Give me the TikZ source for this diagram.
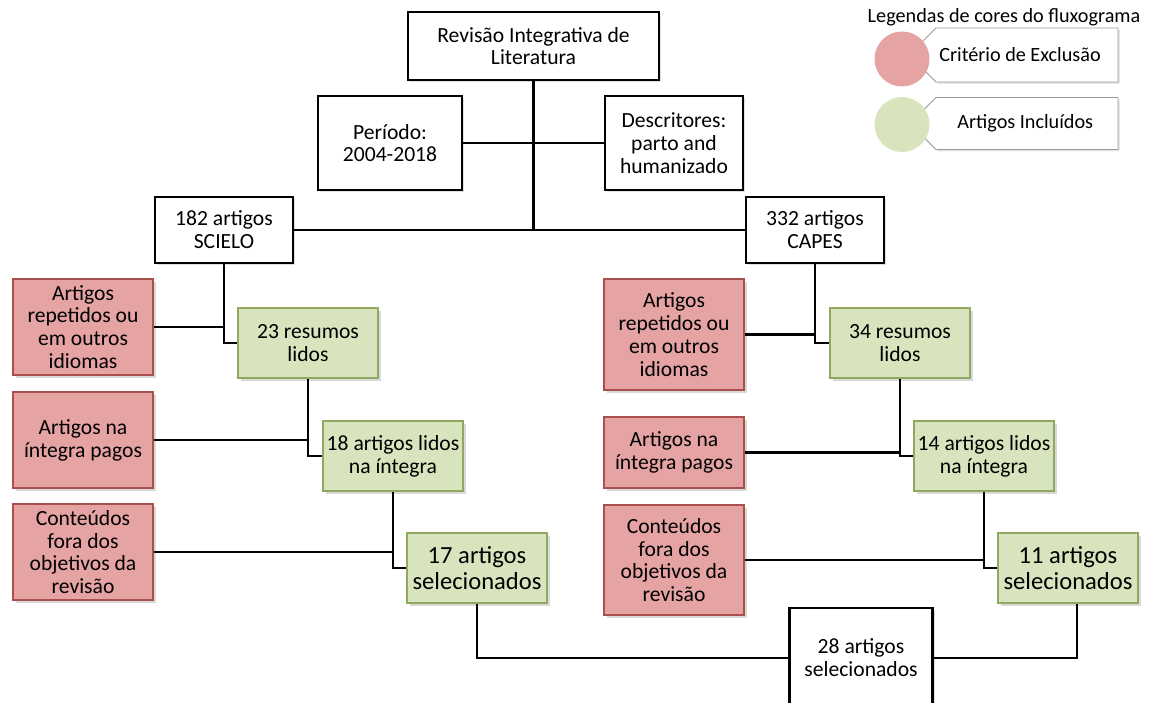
\documentclass[tikz,border=0pt]{standalone}
\usepackage{fontspec}
\setmainfont{Carlito}
\usepackage{tikz}
\usetikzlibrary{calc,shadows,shapes.misc}
\definecolor{exclfill}{RGB}{229,164,163}
\definecolor{excldraw}{RGB}{170,80,76}
\definecolor{inclfill}{RGB}{215,228,189}
\definecolor{incldraw}{RGB}{145,168,96}
\newcommand{\boxfont}{\fontsize{12.3}{13}\selectfont}
\newcommand{\selfont}{\fontsize{14}{14.5}\selectfont}

\begin{document}
\begin{tikzpicture}[x=0.02cm, y=-0.02cm,
    plainbox/.style={draw=black, line width=1.6pt, fill=white, align=center, font=\boxfont,
        minimum width=2.8cm, minimum height=1.36cm, inner sep=1pt,
        drop shadow={shadow xshift=1.2pt, shadow yshift=-1.2pt, opacity=0.25}},
    exclbox/.style={draw=excldraw, line width=0.9pt, fill=exclfill, align=center, font=\boxfont,
        minimum width=2.8cm, minimum height=1.92cm, inner sep=1pt,
        drop shadow={shadow xshift=1.5pt, shadow yshift=-1.5pt, opacity=0.3}},
    inclbox/.style={draw=incldraw, line width=0.9pt, fill=inclfill, align=center, font=\boxfont,
        minimum width=2.8cm, minimum height=1.4cm, inner sep=1pt,
        drop shadow={shadow xshift=1.5pt, shadow yshift=-1.5pt, opacity=0.3}},
    legbox/.style={draw=black!40, line width=0.5pt, fill=white, font=\fontsize{11.5}{13}\selectfont,
        chamfered rectangle, chamfered rectangle corners={north west,south west},
        chamfered rectangle sep=4pt, minimum width=3.92cm, inner sep=1pt,
        drop shadow={shadow xshift=1pt, shadow yshift=-1pt, opacity=0.2}},
    link/.style={line width=1.2pt, black}]
    \useasboundingbox (0,0) rectangle (1153,703);

    % top of the tree
    \node[plainbox, minimum width=5.02cm] (revisao) at (533.5,46) {Revisão Integrativa de\\Literatura};
    \node[plainbox, minimum width=2.88cm, minimum height=1.88cm] (periodo) at (390,143) {Período:\\2004-2018};
    \node[plainbox, minimum width=2.76cm, minimum height=1.88cm] (descritores) at (674,143) {Descritores:\\parto and\\humanizado};
    \node[plainbox, minimum width=2.76cm, minimum height=1.32cm] (scielo) at (224,230) {182 artigos\\SCIELO};
    \node[plainbox, minimum width=2.76cm, minimum height=1.32cm] (capes) at (815,230) {332 artigos\\CAPES};

    % SCIELO branch
    \node[exclbox] (exclA) at (83,327) {Artigos\\repetidos ou\\em outros\\idiomas};
    \node[exclbox] (exclB) at (83,440) {Artigos na\\íntegra pagos};
    \node[exclbox] (exclC) at (83,552) {Conteúdos\\fora dos\\objetivos da\\revisão};
    \node[inclbox] (resumosA) at (308,343) {23 resumos\\lidos};
    \node[inclbox] (integraA) at (393,456) {18 artigos lidos\\na íntegra};
    \node[inclbox, font=\selfont] (selA) at (477,568) {17 artigos\\selecionados};

    % CAPES branch
    \node[exclbox, minimum height=2.22cm] (exclD) at (674,334.5) {Artigos\\repetidos ou\\em outros\\idiomas};
    \node[exclbox, minimum height=1.42cm] (exclE) at (674,452.5) {Artigos na\\íntegra pagos};
    \node[exclbox, minimum height=2.2cm] (exclF) at (674,560) {Conteúdos\\fora dos\\objetivos da\\revisão};
    \node[inclbox] (resumosB) at (900,343) {34 resumos\\lidos};
    \node[inclbox] (integraB) at (984,456) {14 artigos lidos\\na íntegra};
    \node[inclbox, font=\selfont] (selB) at (1068,568) {11 artigos\\selecionados};

    \node[plainbox, minimum width=2.86cm, minimum height=2.0cm] (total) at (861,658) {28 artigos\\selecionados};

    % legend
    \node[font=\fontsize{11.5}{13}\selectfont] (legtitle) at (1004,17) {Legendas de cores do fluxograma};
    \node[legbox, minimum height=1.08cm] (legexcl) at (1020,55) {Critério de Exclusão};
    \node[legbox, minimum height=1.04cm] (legincl) at (1020,123.5) {\hspace{6pt}Artigos Incluídos};
    \node[circle, fill=exclfill, minimum size=1.1cm, inner sep=0pt] (legred) at (902,59) {};
    \node[circle, fill=inclfill, minimum size=1.1cm, inner sep=0pt] (leggreen) at (902,124.5) {};

    % connectors
    \draw[link] (revisao.south) -- (revisao.south |- scielo.east);
    \draw[link] (periodo.east) -- (descritores.west);
    \draw[link] (scielo.east) -- (capes.west);

    \draw[link] (scielo.south) |- (resumosA.west);
    \draw[link] (exclA.east) -- (exclA.east -| scielo.south);
    \draw[link] (resumosA.south) |- (integraA.west);
    \draw[link] (exclB.east) -- (exclB.east -| resumosA.south);
    \draw[link] (integraA.south) |- (selA.west);
    \draw[link] (exclC.east) -- (exclC.east -| integraA.south);

    \draw[link] (capes.south) |- (resumosB.west);
    \draw[link] (exclD.east) -- (exclD.east -| capes.south);
    \draw[link] (resumosB.south) |- (integraB.west);
    \draw[link] (exclE.east) -- (exclE.east -| resumosB.south);
    \draw[link] (integraB.south) |- (selB.west);
    \draw[link] (exclF.east) -- (exclF.east -| integraB.south);

    \draw[link] (selA.south) |- (total.west);
    \draw[link] (total.east) -| ($(selB.south)+(9,0)$);
\end{tikzpicture}
\end{document}
